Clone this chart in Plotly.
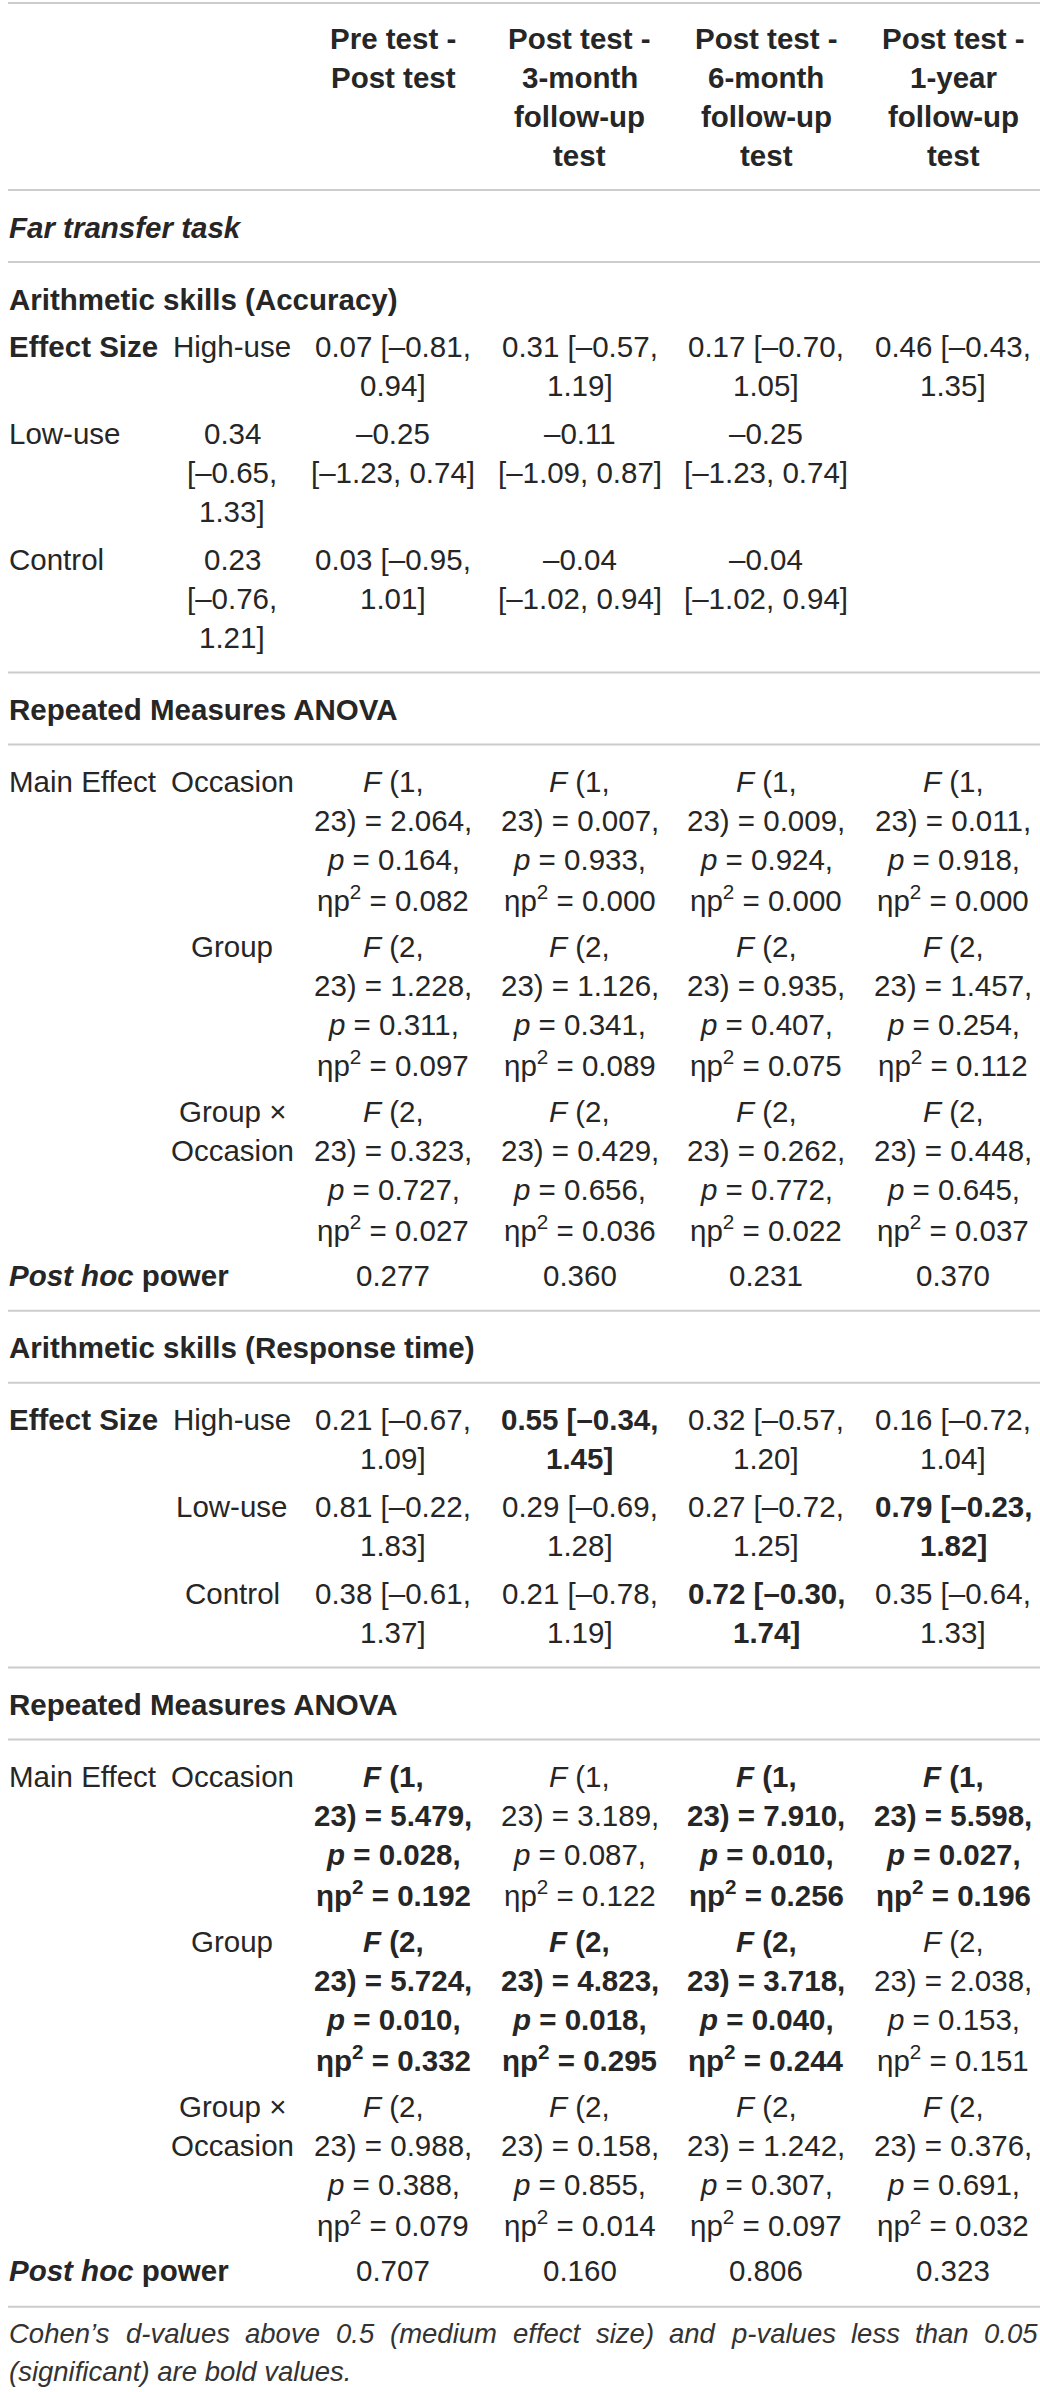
import plotly.graph_objects as go

# column headings (line breaks as in the source table)
periods = [["Pre test -", "Post test"],
           ["Post test -", "3-month", "follow-up", "test"],
           ["Post test -", "6-month", "follow-up", "test"],
           ["Post test -", "1-year", "follow-up", "test"]]
groups = ["High-use", "Low-use", "Control"]
anova_terms = [["Occasion"], ["Group"], ["Group ×", "Occasion"]]
anova_df1 = [1, 2, 2]
df2 = 23

# Arithmetic skills (Accuracy): Cohen's d [95% CI]
acc_high_d = [0.07, 0.31, 0.17, 0.46]
acc_high_lo = [-0.81, -0.57, -0.70, -0.43]
acc_high_hi = [0.94, 1.19, 1.05, 1.35]
acc_low_d = [0.34, -0.25, -0.11, -0.25]
acc_low_lo = [-0.65, -1.23, -1.09, -1.23]
acc_low_hi = [1.33, 0.74, 0.87, 0.74]
acc_ctrl_d = [0.23, 0.03, -0.04, -0.04]
acc_ctrl_lo = [-0.76, -0.95, -1.02, -1.02]
acc_ctrl_hi = [1.21, 1.01, 0.94, 0.94]

# Accuracy: repeated measures ANOVA
acc_occ_F = [2.064, 0.007, 0.009, 0.011]
acc_occ_p = [0.164, 0.933, 0.924, 0.918]
acc_occ_eta = [0.082, 0.000, 0.000, 0.000]
acc_grp_F = [1.228, 1.126, 0.935, 1.457]
acc_grp_p = [0.311, 0.341, 0.407, 0.254]
acc_grp_eta = [0.097, 0.089, 0.075, 0.112]
acc_int_F = [0.323, 0.429, 0.262, 0.448]
acc_int_p = [0.727, 0.656, 0.772, 0.645]
acc_int_eta = [0.027, 0.036, 0.022, 0.037]
acc_power = [0.277, 0.360, 0.231, 0.370]

# Arithmetic skills (Response time): Cohen's d [95% CI]
rt_high_d = [0.21, 0.55, 0.32, 0.16]
rt_high_lo = [-0.67, -0.34, -0.57, -0.72]
rt_high_hi = [1.09, 1.45, 1.20, 1.04]
rt_high_bold = [False, True, False, False]
rt_low_d = [0.81, 0.29, 0.27, 0.79]
rt_low_lo = [-0.22, -0.69, -0.72, -0.23]
rt_low_hi = [1.83, 1.28, 1.25, 1.82]
rt_low_bold = [False, False, False, True]
rt_ctrl_d = [0.38, 0.21, 0.72, 0.35]
rt_ctrl_lo = [-0.61, -0.78, -0.30, -0.64]
rt_ctrl_hi = [1.37, 1.19, 1.74, 1.33]
rt_ctrl_bold = [False, False, True, False]

# Response time: repeated measures ANOVA
rt_occ_F = [5.479, 3.189, 7.910, 5.598]
rt_occ_p = [0.028, 0.087, 0.010, 0.027]
rt_occ_eta = [0.192, 0.122, 0.256, 0.196]
rt_grp_F = [5.724, 4.823, 3.718, 2.038]
rt_grp_p = [0.010, 0.018, 0.040, 0.153]
rt_grp_eta = [0.332, 0.295, 0.244, 0.151]
rt_int_F = [0.988, 0.158, 1.242, 0.376]
rt_int_p = [0.388, 0.855, 0.307, 0.691]
rt_int_eta = [0.079, 0.014, 0.097, 0.032]
rt_power = [0.707, 0.160, 0.806, 0.323]

footnote = ["Cohen’s d-values above 0.5 (medium effect size) and p-values less than 0.05",
            "(significant) are bold values."]

# ---- look ----
W, H = 1040, 2392
FONT = "Liberation Sans, Arial, sans-serif"
FS = 29.5
FS_NOTE = 27.5
INK = "#262626"
RULE = "#cccccc"
LINE = 39.0        # text line step inside a cell
ROW_STEP = 47.8    # last line of a row -> first line of next row
SEP_STEP = 72      # same, across a rule
LEFT = 7
SUB_X = 232
COL_X = [393 + i * 186.7 for i in range(4)]

fig = go.Figure()


def put(x, y, lines, anchor="center", bold=False, size=FS, color=INK):
    for i, t in enumerate(lines):
        if bold:
            t = "<b>" + t + "</b>"
        fig.add_annotation(x=x, y=y + i * LINE, text=t, showarrow=False,
                           xanchor=anchor, yanchor="middle",
                           font=dict(family=FONT, size=size, color=color))
    return y + (len(lines) - 1) * LINE


def rule(y):
    fig.add_shape(type="line", x0=8, x1=W, y0=y, y1=y, layer="below",
                  line=dict(color=RULE, width=2))


def step(last, sep):
    if sep:
        rule(last + 35)
        return last + SEP_STEP
    return last + ROW_STEP


def num(v):
    s = f"{abs(v):.2f}"
    return "–" + s if v < 0 else s


def es_lines(d, lo, hi, style):
    if style == "split":
        return [f"{num(d)} [{num(lo)},", f"{num(hi)}]"]
    if style == "stack2":
        return [num(d), f"[{num(lo)}, {num(hi)}]"]
    return [num(d), f"[{num(lo)},", f"{num(hi)}]"]


def es_row(y, xs, d, lo, hi, styles, bold=None):
    last = y
    for i in range(len(d)):
        b = bold[i] if bold else False
        last = max(last, put(xs[i], y, es_lines(d[i], lo[i], hi[i], styles[i]), bold=b))
    return last


def anova_row(y, df1, F, p, eta):
    last = y
    for i in range(4):
        lines = [f"<i>F</i> ({df1},", f"{df2}) = {F[i]:.3f},",
                 f"<i>p</i> = {p[i]:.3f},", f"ηp<sup>2</sup> = {eta[i]:.3f}"]
        last = max(last, put(COL_X[i], y, lines, bold=p[i] < 0.05))
    return last


def anova_block(y, Fs, ps, etas, power):
    put(LEFT, y, ["Main Effect"], anchor="left")
    for k in range(3):
        put(SUB_X, y, anova_terms[k])
        last = anova_row(y, anova_df1[k], Fs[k], ps[k], etas[k])
        y = step(last, False)
    put(LEFT, y, ["<i>Post hoc</i> power"], anchor="left", bold=True)
    for i in range(4):
        put(COL_X[i], y, [f"{power[i]:.3f}"])
    return y


# header
y = 38
rule(y - 35)
last = y
for i in range(4):
    last = max(last, put(COL_X[i], y, periods[i], bold=True))
y = step(last, True)
put(LEFT, y, ["<i>Far transfer task</i>"], anchor="left", bold=True)
y = step(y, True)

# accuracy block
put(LEFT, y, ["Arithmetic skills (Accuracy)"], anchor="left", bold=True)
y = step(y, False)
put(LEFT, y, ["Effect Size"], anchor="left", bold=True)
put(SUB_X, y, [groups[0]])
last = es_row(y, COL_X, acc_high_d, acc_high_lo, acc_high_hi, ["split"] * 4)
y = step(last, False)
put(LEFT, y, [groups[1]], anchor="left")
last = es_row(y, [SUB_X] + COL_X[:3], acc_low_d, acc_low_lo, acc_low_hi,
              ["stack3", "stack2", "stack2", "stack2"])
y = step(last, False)
put(LEFT, y, [groups[2]], anchor="left")
last = es_row(y, [SUB_X] + COL_X[:3], acc_ctrl_d, acc_ctrl_lo, acc_ctrl_hi,
              ["stack3", "split", "stack2", "stack2"])
y = step(last, True)
put(LEFT, y, ["Repeated Measures ANOVA"], anchor="left", bold=True)
y = step(y, True)
y = anova_block(y, [acc_occ_F, acc_grp_F, acc_int_F], [acc_occ_p, acc_grp_p, acc_int_p],
                [acc_occ_eta, acc_grp_eta, acc_int_eta], acc_power)
y = step(y, True)

# response time block
put(LEFT, y, ["Arithmetic skills (Response time)"], anchor="left", bold=True)
y = step(y, True)
put(LEFT, y, ["Effect Size"], anchor="left", bold=True)
rt_rows = [(rt_high_d, rt_high_lo, rt_high_hi, rt_high_bold),
           (rt_low_d, rt_low_lo, rt_low_hi, rt_low_bold),
           (rt_ctrl_d, rt_ctrl_lo, rt_ctrl_hi, rt_ctrl_bold)]
for g, (d, lo, hi, b) in enumerate(rt_rows):
    put(SUB_X, y, [groups[g]])
    last = es_row(y, COL_X, d, lo, hi, ["split"] * 4, bold=b)
    y = step(last, g == 2)
put(LEFT, y, ["Repeated Measures ANOVA"], anchor="left", bold=True)
y = step(y, True)
y = anova_block(y, [rt_occ_F, rt_grp_F, rt_int_F], [rt_occ_p, rt_grp_p, rt_int_p],
                [rt_occ_eta, rt_grp_eta, rt_int_eta], rt_power)
rule(y + 36)

# footnote, first line justified to the full width
HW = {" ": 278, "’": 222, ".": 278, ",": 278, "(": 333, ")": 333, "-": 333,
      "C": 722, "a": 556, "b": 556, "c": 500, "d": 556, "e": 556, "f": 278,
      "g": 556, "h": 556, "i": 222, "l": 222, "m": 833, "n": 556, "o": 556,
      "p": 556, "r": 333, "s": 500, "t": 278, "u": 556, "v": 500, "z": 500}


def text_w(s, size):
    return sum(HW.get(ch, 556) for ch in s) / 1000 * size


ny = y + 63
words = footnote[0].split()
widths = [text_w(w_, FS_NOTE) for w_ in words]
gap = (W - 4 - LEFT - sum(widths)) / (len(words) - 1)
x = LEFT
for w_, wd in zip(words, widths):
    put(x, ny, ["<i>" + w_ + "</i>"], anchor="left", size=FS_NOTE, color="#333333")
    x += wd + gap
fig.add_annotation(x=LEFT, y=ny + 38, text="<i>" + footnote[1] + "</i>", showarrow=False,
                   xanchor="left", yanchor="middle",
                   font=dict(family=FONT, size=FS_NOTE, color="#333333"))

fig.update_layout(width=W, height=H, margin=dict(l=0, r=0, t=0, b=0),
                  paper_bgcolor="white", plot_bgcolor="white", showlegend=False)
fig.update_xaxes(range=[0, W], visible=False, fixedrange=True)
fig.update_yaxes(range=[H, 0], visible=False, fixedrange=True)
# the page body has a default 8px margin; drop it so the figure sits at 0,0
fig.write_html("out.html", config={"displayModeBar": False},
               post_script="document.body.style.margin='0';")
